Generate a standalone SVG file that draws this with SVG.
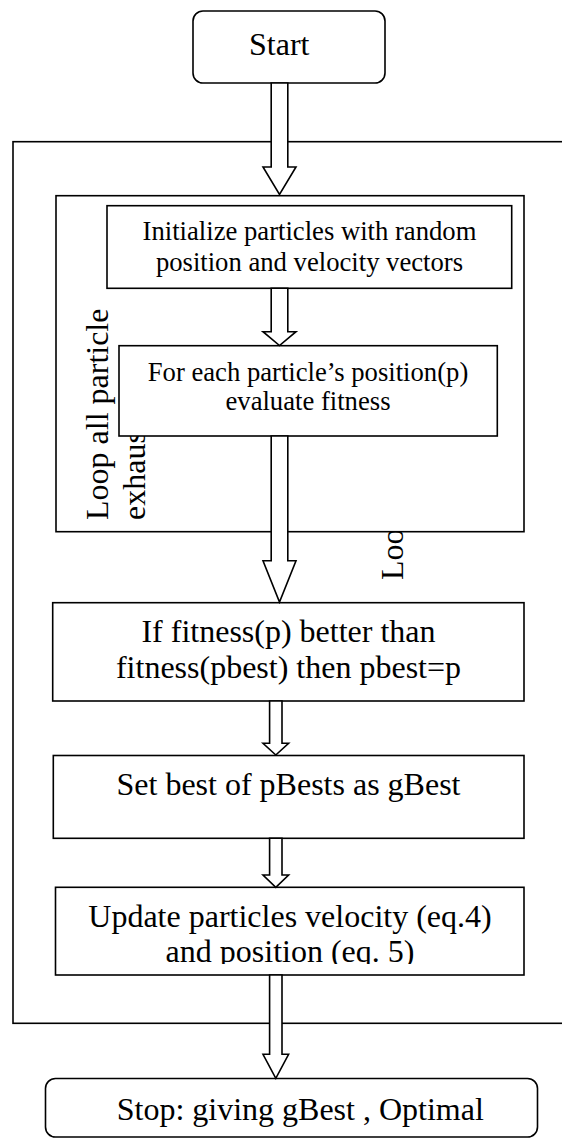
<svg xmlns="http://www.w3.org/2000/svg" width="562" height="1139" viewBox="0 0 562 1139">
<style>
  .box{fill:#fff;stroke:#000;stroke-width:1.6}
  .frame{fill:#fff;stroke:#000;stroke-width:1.6}
  .arrow{fill:#fff;stroke:#000;stroke-width:1.6;stroke-linejoin:miter}
  .t{font-family:"Liberation Serif","Times New Roman",serif;fill:#000}
  .big{font-size:32px}
  .small{font-size:26.67px}
  .c{text-anchor:middle}
</style>
<defs>
  <clipPath id="updClip"><rect x="50" y="887" width="480" height="77"/></clipPath>
</defs>

<g id="outer-loop">
  <rect class="frame" x="13" y="141.7" width="600" height="881.6"/>
  <text class="t big" transform="translate(403.3,580) rotate(-90)">Loo</text>
</g>

<g id="inner-loop">
  <rect class="frame" x="56" y="195.7" width="468" height="336"/>
  <text class="t big" transform="translate(108,520) rotate(-90)">Loop all particle</text>
  <text class="t big" transform="translate(145,520) rotate(-90)">exhaus</text>
</g>

<g id="start">
  <rect class="box" x="193" y="11" width="192" height="72" rx="10" ry="10"/>
  <text class="t big" x="249" y="55">Start</text>
</g>

<g id="initialize">
  <rect class="box" x="107" y="205.7" width="404.7" height="82.6"/>
  <text class="t small c" x="309.5" y="240">Initialize particles with random</text>
  <text class="t small c" x="309.5" y="270.7">position and velocity vectors</text>
</g>

<g id="evaluate">
  <rect class="box" x="119" y="345.7" width="378.3" height="90.3"/>
  <text class="t small c" x="308" y="381">For each particle’s position(p)</text>
  <text class="t small c" x="308" y="410">evaluate fitness</text>
</g>

<g id="pbest">
  <rect class="box" x="52.7" y="602.7" width="471.3" height="98.3"/>
  <text class="t big c" x="288.5" y="642">If fitness(p) better than</text>
  <text class="t big c" x="288.5" y="678">fitness(pbest) then pbest=p</text>
</g>

<g id="gbest">
  <rect class="box" x="53.3" y="755.5" width="470.7" height="82.8"/>
  <text class="t big c" x="288.5" y="795">Set best of pBests as gBest</text>
</g>

<g id="update">
  <rect class="box" x="55.5" y="887.3" width="468.5" height="87.7"/>
  <g clip-path="url(#updClip)">
    <text class="t big c" x="290" y="926.7">Update particles velocity (eq.4)</text>
    <text class="t big c" x="290" y="961.7">and position (eq. 5)</text>
  </g>
</g>

<g id="stop">
  <rect class="box" x="45.5" y="1078.5" width="492" height="58.5" rx="10" ry="10"/>
  <text class="t big" x="116.7" y="1120">Stop: giving gBest , Optimal</text>
</g>

<g id="connectors">
  <path class="arrow" d="M271.2,83 L287.8,83 L287.8,167 L296,167 L279.5,194.5 L263,167 L271.2,167 Z"/>
  <path class="arrow" d="M271.2,288.3 L287.8,288.3 L287.8,331.7 L296,331.7 L279.5,345.5 L263,331.7 L271.2,331.7 Z"/>
  <path class="arrow" d="M271.2,436 L287.8,436 L287.8,560.7 L296,560.7 L279.5,602 L263,560.7 L271.2,560.7 Z"/>
  <path class="arrow" d="M269.6,701 L282,701 L282,743.3 L288.6,743.3 L275.8,755 L263,743.3 L269.6,743.3 Z"/>
  <path class="arrow" d="M269.6,838.3 L282,838.3 L282,875 L288.6,875 L275.8,887.3 L263,875 L269.6,875 Z"/>
  <path class="arrow" d="M269.6,975 L282,975 L282,1054.3 L288.6,1054.3 L275.8,1078.3 L263,1054.3 L269.6,1054.3 Z"/>
</g>
</svg>
